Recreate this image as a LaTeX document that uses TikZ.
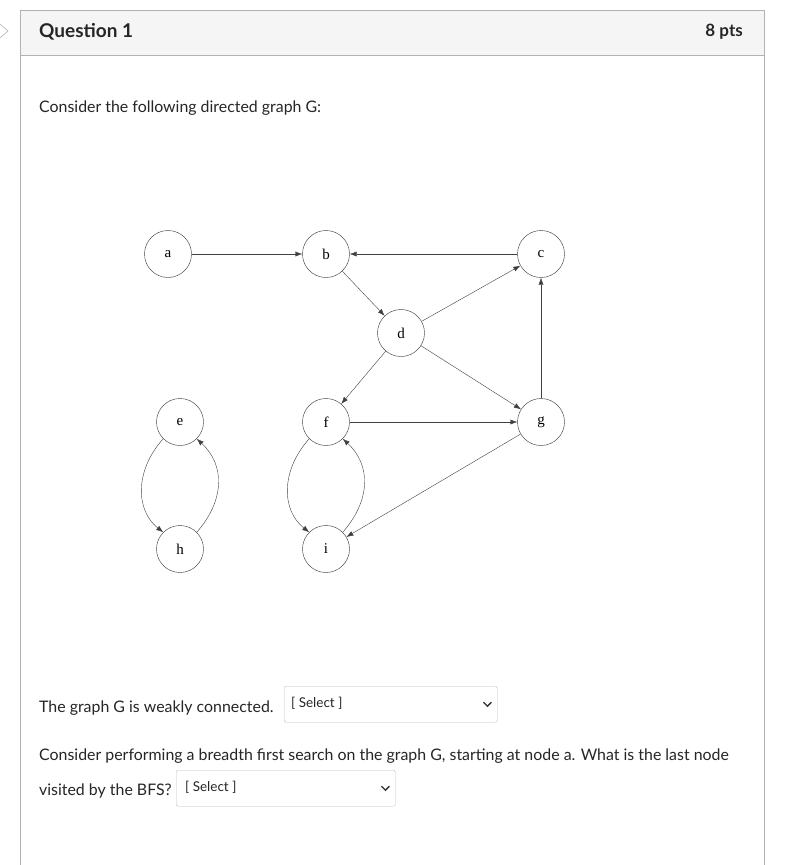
\documentclass[tikz,border=0pt]{standalone}
\usepackage{fontspec}
\setmainfont{Lato}
\newfontfamily\serifnode{Liberation Serif}
\usetikzlibrary{arrows.meta}
\begin{document}
\begin{tikzpicture}[x=1pt,y=-1pt,
  vtx/.style={circle,draw=black!80,minimum size=47pt,inner sep=0pt,font=\serifnode\fontsize{15}{15}\selectfont},
  edge/.style={draw=black!75,-{Latex[length=7pt,width=5pt]}},
  txt/.style={anchor=west,inner sep=0pt,font=\fontsize{15.9}{18}\selectfont,text=black!85},
  selbox/.style={draw=black!25,rounded corners=1.5pt,anchor=north west,minimum height=36pt,inner sep=0pt}]
\useasboundingbox (0,0) rectangle (799,865);
\fill[white] (0,0) rectangle (799,865);
% card
\fill[black!4] (20,10) rectangle (764,55);
\draw[black!30] (20,865) -- (20,10) -- (764,10) -- (764,865);
\draw[black!30] (20,55) -- (764,55);
\draw[black!40] (0,24) -- (8,31) -- (0,38);
\node[txt,font=\bfseries\fontsize{19}{20}\selectfont] (q) at (39,32) {Question 1};
\node[txt,anchor=east,font=\bfseries\fontsize{17}{20}\selectfont] (p) at (743,32) {8 pts};
\node[txt] (t1) at (39,108) {Consider the following directed graph G:};
% graph
\node[vtx] (a) at (168,254) {a};
\node[vtx] (b) at (326,254) {b};
\node[vtx] (c) at (541,254) {c};
\node[vtx] (d) at (401,333) {d};
\node[vtx] (e) at (180,422) {e};
\node[vtx] (f) at (326,422) {f};
\node[vtx] (g) at (541,422) {g};
\node[vtx] (h) at (180,549) {h};
\node[vtx] (i) at (326,549) {i};
\draw[edge] (a) -- (b);
\draw[edge] (c) -- (b);
\draw[edge] (b) -- (d);
\draw[edge] (d) -- (c);
\draw[edge] (d) -- (f);
\draw[edge] (d) -- (g);
\draw[edge] (f) -- (g);
\draw[edge] (g) -- (c);
\draw[edge] (g) -- (i);
\draw[edge] (e.225) .. controls (135,470) and (135,510) .. (h.135);
\draw[edge] (h.45) .. controls (225,500) and (225,465) .. (e.-45);
\draw[edge] (f.225) .. controls (281,470) and (281,510) .. (i.135);
\draw[edge] (i.45) .. controls (371,500) and (371,465) .. (f.-45);
% questions
\node[txt] (t2) at (39,708) {The graph G is weakly connected.};
\node[selbox,minimum width=213pt] (s1) at (284,686) {};
\node[txt,font=\fontsize{13.5}{15}\selectfont] (s1t) at (291,703) {[ Select ]};
\draw[black!80,line width=1.3pt] (s1.east)++(-14,-2) -- ++(4,4) -- ++(4,-4);
\node[txt] (t3) at (39,756) {Consider performing a breadth first search on the graph G, starting at node a. What is the last node};
\node[txt] (t4) at (39,791) {visited by the BFS?};
\node[selbox,minimum width=219pt] (s2) at (176,770) {};
\node[txt,font=\fontsize{13.5}{15}\selectfont] (s2t) at (185,787) {[ Select ]};
\draw[black!80,line width=1.3pt] (s2.east)++(-14,-2) -- ++(4,4) -- ++(4,-4);
\end{tikzpicture}
\end{document}
